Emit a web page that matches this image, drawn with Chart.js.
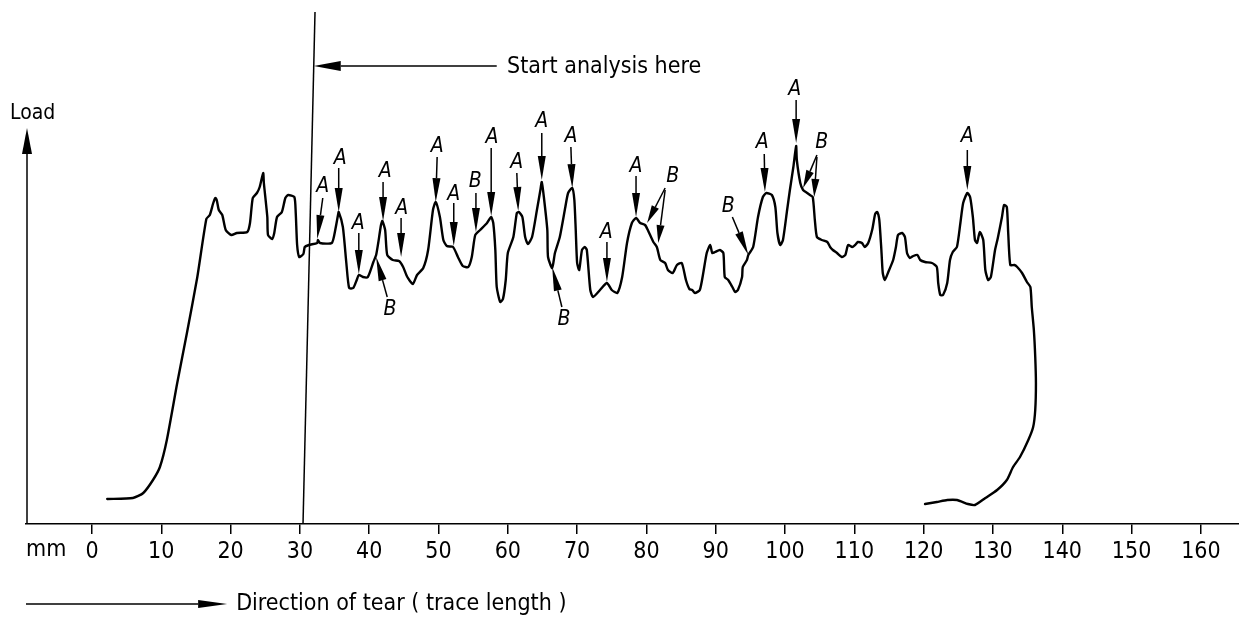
<!DOCTYPE html>
<html>
<head>
<meta charset="utf-8">
<script src="https://cdn.jsdelivr.net/npm/chart.js@4.4.1/dist/chart.umd.min.js"></script>
<style>
	html, body { margin: 0; padding: 0; background: #fff; }
</style>
</head>
<body>
<canvas id="tear_chart" width="1239" height="619"></canvas>
<script>
// trace: x in mm of trace length, load in arbitrary units
const traceMm = [
	2.2, 5.9, 7.4, 8.8, 9.8, 10.8, 12.3, 13.7, 15.2, 16.5, 17.0, 17.5, 17.8, 18.0, 18.3, 18.8, 19.3, 20.1, 20.9, 22.4,
	22.8, 23.2, 23.8, 24.2, 24.7, 24.8, 25.3, 25.4, 26.0, 26.3, 26.7, 27.4, 27.9, 28.3, 29.2, 29.4, 29.6, 29.9, 30.5, 30.7,
	31.3, 32.5, 32.6, 32.9, 34.6, 35.1, 35.5, 35.6, 36.2, 36.7, 37.1, 37.7, 38.2, 38.5, 39.1, 39.8, 40.6, 41.0, 41.3, 41.7,
	41.9, 42.3, 42.6, 43.4, 44.3, 44.9, 45.5, 46.3, 46.9, 47.8, 48.5, 49.2, 49.6, 50.2, 50.7, 51.2, 52.1, 52.8, 53.5, 54.3,
	54.8, 55.3, 56.0, 57.0, 57.6, 57.9, 58.2, 58.4, 58.9, 59.3, 59.7, 60.0, 60.8, 61.3, 61.6, 62.1, 62.5, 62.9, 63.5, 64.2,
	64.7, 64.9, 65.2, 65.7, 65.8, 66.4, 66.8, 67.5, 68.3, 68.7, 69.3, 69.6, 69.8, 70.0, 70.3, 70.7, 71.1, 71.4, 71.9, 72.3,
	73.3, 74.3, 75.0, 75.8, 76.5, 77.2, 77.9, 78.5, 79.1, 79.8, 80.2, 81.0, 81.5, 82.0, 82.7, 83.1, 83.8, 84.4, 85.1, 85.7,
	86.2, 86.6, 87.0, 87.7, 88.2, 88.7, 89.2, 89.5, 89.9, 90.6, 91.1, 91.3, 91.8, 92.4, 92.8, 93.2, 93.8, 93.9, 94.5, 94.7,
	95.4, 96.1, 96.8, 97.3, 98.1, 98.6, 98.9, 99.3, 99.7, 100.3, 100.7, 101.2, 101.6, 101.7, 102.2, 102.6, 103.2, 103.6, 104.0, 104.3,
	104.6, 105.3, 106.1, 106.5, 106.9, 107.5, 108.2, 108.7, 109.1, 109.7, 110.1, 110.5, 111.1, 111.5, 112.0, 112.6, 113.0, 113.3, 113.6, 113.9,
	114.1, 114.4, 114.9, 115.6, 116.0, 116.3, 116.9, 117.3, 117.6, 118.0, 118.5, 119.1, 119.5, 120.2, 121.2, 121.9, 122.1, 122.4, 122.8, 123.4,
	123.8, 124.2, 124.8, 125.3, 125.7, 126.3, 126.7, 127.1, 127.4, 127.7, 128.1, 128.6, 128.9, 129.3, 129.7, 130.3, 130.7, 131.3, 131.6, 132.0,
	132.2, 132.5, 133.1, 133.5, 134.2, 134.9, 135.4, 135.6, 135.9, 136.1, 136.2, 136.1, 135.8, 135.1, 133.9, 132.9, 132.0, 130.6, 128.9, 127.4,
	126.4, 124.8, 123.4, 121.9, 120.2
]
const traceLoad = [
	5.0, 5.2, 6.2, 8.8, 11.4, 16.8, 28.2, 38.2, 49.4, 61.0, 61.8, 64.2, 65.2, 64.8, 62.8, 61.8, 58.8, 57.8, 58.2, 58.4,
	60.2, 65.2, 66.2, 67.4, 70.2, 68.2, 61.4, 57.8, 57.0, 58.2, 61.4, 62.4, 65.2, 65.8, 65.4, 62.2, 55.8, 53.4, 54.0, 55.4,
	55.8, 56.2, 56.8, 56.2, 56.2, 58.8, 61.8, 62.4, 59.4, 52.2, 47.2, 47.2, 48.8, 49.8, 49.4, 49.4, 52.4, 53.8, 56.2, 59.8,
	60.6, 58.8, 53.8, 52.8, 52.6, 51.4, 49.4, 48.0, 49.8, 51.2, 54.8, 62.8, 64.4, 61.4, 56.8, 55.6, 55.4, 53.4, 51.6, 51.4,
	53.4, 57.8, 58.8, 60.2, 61.4, 60.2, 54.8, 47.4, 44.4, 45.0, 48.8, 54.2, 57.4, 62.2, 62.4, 61.4, 57.4, 56.0, 57.4, 62.8,
	66.8, 68.4, 65.4, 58.8, 53.4, 51.2, 54.2, 57.4, 63.4, 66.2, 67.2, 64.8, 58.8, 52.2, 50.8, 54.8, 55.4, 54.8, 46.8, 45.4,
	46.8, 48.2, 46.8, 46.2, 49.4, 56.2, 60.2, 61.2, 60.2, 59.8, 58.8, 56.4, 55.4, 52.8, 52.2, 50.8, 50.2, 51.8, 52.2, 48.8,
	47.0, 46.8, 46.2, 46.8, 50.2, 54.2, 55.8, 54.2, 54.4, 54.8, 54.2, 49.4, 48.8, 47.4, 46.4, 46.8, 49.4, 51.4, 52.8, 53.8,
	55.4, 61.4, 65.4, 66.2, 65.8, 63.4, 58.2, 55.8, 56.8, 62.8, 66.8, 71.4, 75.6, 72.8, 68.2, 66.8, 66.2, 65.8, 65.4, 60.8,
	57.4, 56.8, 56.4, 55.4, 54.8, 54.2, 53.4, 53.8, 55.8, 55.4, 55.8, 56.4, 56.2, 55.4, 56.2, 59.0, 62.0, 62.4, 60.8, 54.8,
	50.2, 48.8, 50.4, 52.8, 55.4, 57.8, 58.2, 57.4, 54.2, 53.2, 53.6, 53.8, 52.8, 52.4, 52.2, 51.4, 48.2, 45.8, 45.8, 48.2,
	52.8, 54.4, 55.4, 60.2, 64.2, 66.2, 65.4, 61.4, 56.8, 56.2, 58.4, 56.8, 50.8, 48.8, 49.4, 54.8, 57.2, 61.4, 63.8, 63.4,
	58.2, 51.8, 51.8, 51.4, 50.2, 48.4, 47.4, 43.4, 38.8, 33.4, 28.2, 22.8, 19.4, 16.8, 13.4, 11.4, 8.8, 6.8, 5.2, 3.8,
	4.0, 4.8, 4.8, 4.4, 4.0
]

// slightly slanted "start analysis" line, bottom to top
const startLineMm = [30.45, 32.18]
const startLineLoad = [0, 102.4]

const xTickValues = [0, 10, 20, 30, 40, 50, 60, 70, 80, 90, 100, 110, 120, 130, 140, 150, 160]

// [label, label x, label load, [[tail x, tail load, tip x, tip load], ...]]
const markers = [
	['A', 33.3, 67.4, [[33.3, 65.2, 32.5, 57.0]]],
	['A', 35.8, 73.0, [[35.6, 71.2, 35.6, 62.4]]],
	['A', 38.4, 60.0, [[38.5, 58.2, 38.5, 50.0]]],
	['A', 42.3, 70.4, [[42.0, 68.4, 42.0, 60.6]]],
	['A', 44.7, 63.0, [[44.6, 61.2, 44.6, 53.4]]],
	['B', 43.0, 42.8, [[42.6, 45.4, 41.0, 53.4]]],
	['A', 49.8, 75.4, [[49.8, 73.4, 49.6, 64.4]]],
	['A', 52.2, 65.8, [[52.2, 64.2, 52.2, 55.6]]],
	['B', 55.3, 68.4, [[55.4, 66.2, 55.4, 58.4]]],
	['A', 57.7, 77.2, [[57.6, 75.2, 57.6, 61.6]]],
	['A', 61.3, 72.2, [[61.3, 70.2, 61.5, 62.6]]],
	['A', 64.9, 80.4, [[64.9, 78.2, 64.9, 68.8]]],
	['A', 69.1, 77.4, [[69.1, 75.4, 69.3, 67.2]]],
	['B', 68.1, 40.8, [[67.8, 43.4, 66.4, 51.4]]],
	['A', 74.2, 58.2, [[74.3, 56.4, 74.3, 48.4]]],
	['A', 78.5, 71.4, [[78.5, 69.6, 78.5, 61.4]]],
	['B', 83.8, 69.4, [[82.7, 67.2, 80.1, 60.2], [82.7, 66.8, 81.7, 56.2]]],
	['B', 91.8, 63.4, [[92.4, 61.4, 94.7, 53.8]]],
	['A', 96.7, 76.2, [[97.0, 74.0, 97.1, 66.4]]],
	['A', 101.4, 86.8, [[101.6, 84.8, 101.6, 76.2]]],
	['B', 105.3, 76.2, [[104.6, 73.8, 102.6, 67.2], [104.6, 73.4, 104.2, 65.4]]],
	['A', 126.3, 77.4, [[126.3, 74.8, 126.3, 66.8]]]
]

const uprightFont = "'DejaVu Sans Condensed', 'DejaVu Sans', sans-serif"
const tickFont = "'Liberation Sans Narrow', 'DejaVu Sans Condensed', sans-serif"

function drawArrow(ctx, x1, y1, x2, y2, len, half) {
	const a = Math.atan2(y2 - y1, x2 - x1)
	const bx = x2 - len * Math.cos(a), by = y2 - len * Math.sin(a)
	ctx.beginPath()
	ctx.moveTo(x1, y1)
	ctx.lineTo(bx, by)
	ctx.stroke()
	ctx.beginPath()
	ctx.moveTo(x2, y2)
	ctx.lineTo(bx + half * Math.sin(a), by - half * Math.cos(a))
	ctx.lineTo(bx - half * Math.sin(a), by + half * Math.cos(a))
	ctx.closePath()
	ctx.fill()
}

const notesPlugin = {
	id: 'notes',
	afterDatasetsDraw(chart) {
		const ctx = chart.ctx
		const xs = chart.scales.x, ys = chart.scales.y
		const area = chart.chartArea
		ctx.save()
		ctx.strokeStyle = '#000'
		ctx.fillStyle = '#000'
		ctx.lineWidth = 1.5
		ctx.lineCap = 'butt'

		// A / B markers
		ctx.font = 'italic 21px ' + uprightFont
		ctx.textAlign = 'center'
		ctx.textBaseline = 'middle'
		markers.forEach(([label, lx, ly, arrows]) => {
			ctx.fillText(label, xs.getPixelForValue(lx), ys.getPixelForValue(ly))
			const head = arrows.length > 1 ? 18 : 24
			arrows.forEach(([tx, ty, px, py]) => {
				drawArrow(ctx, xs.getPixelForValue(tx), ys.getPixelForValue(ty),
					xs.getPixelForValue(px), ys.getPixelForValue(py), head, 4)
			})
		})

		// start analysis pointer
		const sy = ys.getPixelForValue(91.6)
		drawArrow(ctx, xs.getPixelForValue(58.4), sy, xs.getPixelForValue(32.0), sy, 27, 5)
		ctx.font = '23px ' + uprightFont
		ctx.textAlign = 'left'
		ctx.fillText('Start analysis here', xs.getPixelForValue(59.9), sy + 1)

		// load axis arrow
		drawArrow(ctx, area.left + 1, area.bottom, area.left + 1, ys.getPixelForValue(79.2), 26, 5)
		ctx.font = '21px ' + uprightFont
		ctx.fillText('Load', area.left - 16, ys.getPixelForValue(82.1))

		// unit label and tear direction
		ctx.font = '23px ' + tickFont
		ctx.fillText('mm', area.left, area.bottom + 26)
		const dy = area.bottom + 80
		drawArrow(ctx, area.left, dy, xs.getPixelForValue(19.5), dy, 29, 4)
		ctx.font = '23px ' + uprightFont
		ctx.fillText('Direction of tear ( trace length )', xs.getPixelForValue(20.8), dy)
		ctx.restore()
	}
}

new Chart(document.getElementById('tear_chart').getContext('2d'), {
	type: 'scatter',
	data: {
		datasets: [{
			data: traceMm.map((x, i) => ({ x: x, y: traceLoad[i] })),
			showLine: true,
			borderColor: '#000',
			borderWidth: 2.4,
			pointRadius: 0,
			tension: 0.2,
			borderJoinStyle: 'round',
			borderCapStyle: 'round'
		}, {
			data: startLineMm.map((x, i) => ({ x: x, y: startLineLoad[i] })),
			showLine: true,
			borderColor: '#000',
			borderWidth: 1.5,
			pointRadius: 0
		}]
	},
	options: {
		responsive: false,
		animation: false,
		layout: { padding: { left: 26, top: 4, right: 0, bottom: 0 } },
		plugins: { legend: { display: false }, tooltip: { enabled: false } },
		scales: {
			x: {
				type: 'linear',
				min: -9.52,
				max: 165.5,
				afterBuildTicks: (scale) => { scale.ticks = xTickValues.map(v => ({ value: v })) },
				afterFit: (scale) => { scale.height = 95 },
				grid: { drawOnChartArea: false, drawTicks: true, tickLength: 10, color: '#000', lineWidth: 1.5 },
				border: { display: true, color: '#000', width: 1.5 },
				ticks: { color: '#000', font: { family: tickFont, size: 23 }, padding: 4, maxRotation: 0, autoSkip: false }
			},
			y: { display: false, min: 0, max: 104 }
		}
	},
	plugins: [notesPlugin]
})
</script>
</body>
</html>
